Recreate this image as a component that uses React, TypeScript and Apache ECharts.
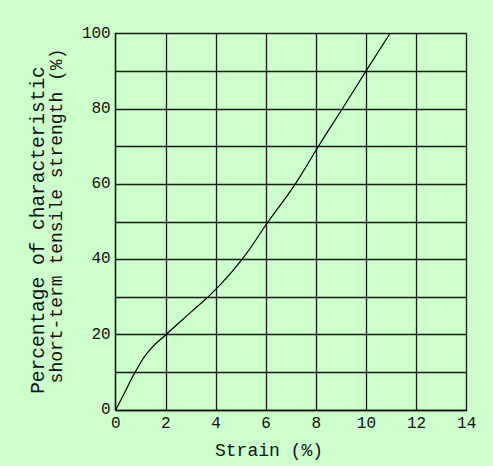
import React, { useEffect, useRef } from "react";
import * as echarts from "echarts";

const strain: number[] = [0, 0.4, 0.77, 1.3, 2, 3, 4, 5.04, 6.08, 7.16, 8.08, 9.04, 9.98, 10.94];
const strength: number[] = [0, 5.2, 10, 15.5, 20, 26, 32.1, 40, 50, 60, 70, 80, 90, 100];
const xTitle = "Strain (%)";
const yTitle1 = "Percentage of characteristic";
const yTitle2 = "short-term tensile strength (%)";

const FONT = "'Liberation Mono', 'DejaVu Sans Mono', monospace";

export default function App() {
  const ref = useRef<HTMLDivElement>(null);
  useEffect(() => {
    document.body.style.margin = "0";
    const chart = echarts.init(ref.current!, undefined, { renderer: "svg" });
    const data = strain.map((x, i) => [x, strength[i]]);
    chart.setOption({
      animation: false,
      backgroundColor: "#ccffcc",
      grid: { left: 115.7, right: 26.3, top: 33.5, bottom: 56, containLabel: false },
      xAxis: {
        type: "value",
        min: 0,
        max: 14,
        interval: 2,
        axisLine: { show: true, lineStyle: { color: "#111", width: 1.3 } },
        axisTick: { show: false },
        axisLabel: { color: "#111", fontFamily: FONT, fontSize: 16, margin: 6 },
        splitLine: { show: true, lineStyle: { color: "#1a1a1a", width: 1.3 } },
      },
      yAxis: {
        type: "value",
        min: 0,
        max: 100,
        interval: 10,
        axisLine: { show: true, lineStyle: { color: "#111", width: 1.3 } },
        axisTick: { show: false },
        axisLabel: {
          color: "#111",
          fontFamily: FONT,
          fontSize: 16,
          margin: 5,
          formatter: (v: number) => (v % 20 === 0 ? String(v) : ""),
        },
        splitLine: { show: true, lineStyle: { color: "#1a1a1a", width: 1.3 } },
      },
      graphic: [
        {
          type: "text",
          x: 269,
          y: 451,
          style: {
            text: xTitle,
            fill: "#111",
            font: `18px ${FONT}`,
            align: "center",
            verticalAlign: "middle",
          },
        },
        {
          type: "text",
          x: 39,
          y: 230,
          rotation: Math.PI / 2,
          style: {
            text: yTitle1,
            fill: "#111",
            font: `19.5px ${FONT}`,
            align: "center",
            verticalAlign: "middle",
          },
        },
        {
          type: "text",
          x: 57,
          y: 216,
          rotation: Math.PI / 2,
          style: {
            text: yTitle2,
            fill: "#111",
            font: `18px ${FONT}`,
            align: "center",
            verticalAlign: "middle",
          },
        },
      ],
      series: [
        {
          type: "line",
          data,
          smooth: 0.5,
          showSymbol: false,
          lineStyle: { color: "#000", width: 1.2 },
        },
      ],
    });
    return () => chart.dispose();
  }, []);
  return <div ref={ref} style={{ width: 493, height: 466 }} />;
}
